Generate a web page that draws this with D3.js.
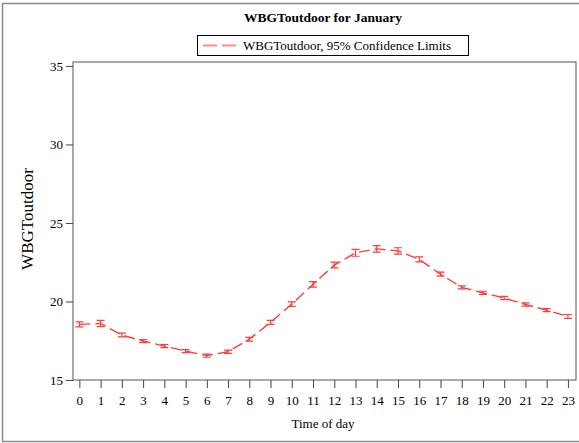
<!DOCTYPE html>
<html>
<head>
<meta charset="utf-8">
<script src="https://cdn.jsdelivr.net/npm/d3@7"></script>
<style>
  body { margin: 0; background: #fff; }
  svg text { font-family: "Liberation Serif", "DejaVu Serif", serif; fill: #000; }
</style>
</head>
<body>
<div id="chart"></div>
<script>
// hours of day and mean WBGT with its 95% confidence limits
const hours = [0, 1, 2, 3, 4, 5, 6, 7, 8, 9, 10, 11, 12, 13, 14, 15, 16, 17, 18, 19, 20, 21, 22, 23];
const wbgtMean = [18.54, 18.6, 17.86, 17.48, 17.16, 16.84, 16.55, 16.8, 17.6, 18.67, 19.83, 21.09,
  22.32, 23.1, 23.35, 23.22, 22.68, 21.74, 20.9, 20.55, 20.22, 19.81, 19.45, 19.05];
const wbgtLower = [18.38, 18.4, 17.74, 17.38, 17.06, 16.74, 16.45, 16.7, 17.48, 18.54, 19.68, 20.92,
  22.14, 22.88, 23.14, 23.02, 22.52, 21.61, 20.8, 20.45, 20.12, 19.71, 19.35, 18.93];
const wbgtUpper = [18.7, 18.8, 17.98, 17.58, 17.26, 16.94, 16.65, 16.9, 17.72, 18.8, 19.98, 21.26,
  22.5, 23.32, 23.56, 23.42, 22.84, 21.87, 21.0, 20.65, 20.32, 19.91, 19.55, 19.17];
const yTicks = [15, 20, 25, 30, 35];

const width = 579;
const height = 443;
const lineColor = '#ff3d3d';

const svg = d3.select('#chart')
  .append('svg')
  .attr('width', width)
  .attr('height', height);

// outer border
svg.append('rect')
  .attr('x', 2.5).attr('y', 3.5)
  .attr('width', 580).attr('height', 438)
  .attr('fill', 'none')
  .attr('stroke', '#8a8a8a')
  .attr('stroke-width', 1.5);

const plot = { left: 73, right: 576, top: 62, bottom: 380 };

const x = d3.scaleLinear().domain([-0.3, 23.38]).range([plot.left, plot.right]);
const y = d3.scaleLinear().domain([15, 35.25]).range([plot.bottom, plot.top]);

// title
svg.append('text')
  .attr('x', 323).attr('y', 22)
  .attr('text-anchor', 'middle')
  .attr('font-size', 13.5)
  .attr('font-weight', 'bold')
  .text('WBGToutdoor for January');

// legend
const legend = svg.append('g').attr('class', 'legend');
legend.append('rect')
  .attr('x', 197.5).attr('y', 35.5)
  .attr('width', 271).attr('height', 20)
  .attr('fill', '#fff')
  .attr('stroke', '#000')
  .attr('stroke-width', 1);
legend.append('line')
  .attr('x1', 203).attr('x2', 240)
  .attr('y1', 45.5).attr('y2', 45.5)
  .attr('stroke', '#ff8c8c')
  .attr('stroke-width', 2)
  .attr('stroke-dasharray', '14,5');
legend.append('text')
  .attr('x', 243).attr('y', 50)
  .attr('font-size', 13)
  .text('WBGToutdoor, 95% Confidence Limits');

// plot frame
svg.append('rect')
  .attr('x', plot.left).attr('y', plot.top)
  .attr('width', plot.right - plot.left).attr('height', plot.bottom - plot.top)
  .attr('fill', 'none')
  .attr('stroke', '#555')
  .attr('stroke-width', 1);

// y axis
const yAxis = svg.append('g')
  .attr('transform', `translate(${plot.left},0)`)
  .call(d3.axisLeft(y).tickValues(yTicks).tickSize(7).tickPadding(3));
yAxis.select('.domain').remove();
yAxis.selectAll('line').attr('stroke', '#444');
yAxis.selectAll('text')
  .attr('font-size', 13)
  .attr('font-family', '"Liberation Serif", "DejaVu Serif", serif')
  .attr('fill', '#222');

// x axis
const xAxis = svg.append('g')
  .attr('transform', `translate(0,${plot.bottom})`)
  .call(d3.axisBottom(x).tickValues(hours).tickSize(8).tickPadding(8).tickFormat(d3.format('d')));
xAxis.select('.domain').remove();
xAxis.selectAll('line').attr('stroke', '#444');
xAxis.selectAll('text')
  .attr('font-size', 13)
  .attr('font-family', '"Liberation Serif", "DejaVu Serif", serif')
  .attr('fill', '#222');

// axis labels
svg.append('text')
  .attr('transform', 'translate(33,219) rotate(-90)')
  .attr('text-anchor', 'middle')
  .attr('font-size', 17)
  .text('WBGToutdoor');

svg.append('text')
  .attr('x', 323).attr('y', 428)
  .attr('text-anchor', 'middle')
  .attr('font-size', 13)
  .text('Time of day');

// mean line
const points = hours.map((h, i) => ({ h, mean: wbgtMean[i], lo: wbgtLower[i], hi: wbgtUpper[i] }));

svg.append('path')
  .datum(points)
  .attr('fill', 'none')
  .attr('stroke', lineColor)
  .attr('stroke-width', 1.4)
  .attr('stroke-dasharray', '11,5')
  .attr('d', d3.line().x(d => x(d.h)).y(d => y(d.mean)));

// confidence limit bars
const capHalf = 4;
const bars = svg.append('g').attr('class', 'ci')
  .attr('stroke', lineColor)
  .attr('stroke-width', 1.2);

bars.selectAll('.ci-bar')
  .data(points)
  .enter()
  .append('path')
  .attr('class', 'ci-bar')
  .attr('fill', 'none')
  .attr('d', d => {
    const cx = x(d.h);
    const top = y(d.hi);
    const bot = y(d.lo);
    return `M${cx - capHalf},${top}H${cx + capHalf}M${cx},${top}V${bot}M${cx - capHalf},${bot}H${cx + capHalf}`;
  });
</script>
</body>
</html>
